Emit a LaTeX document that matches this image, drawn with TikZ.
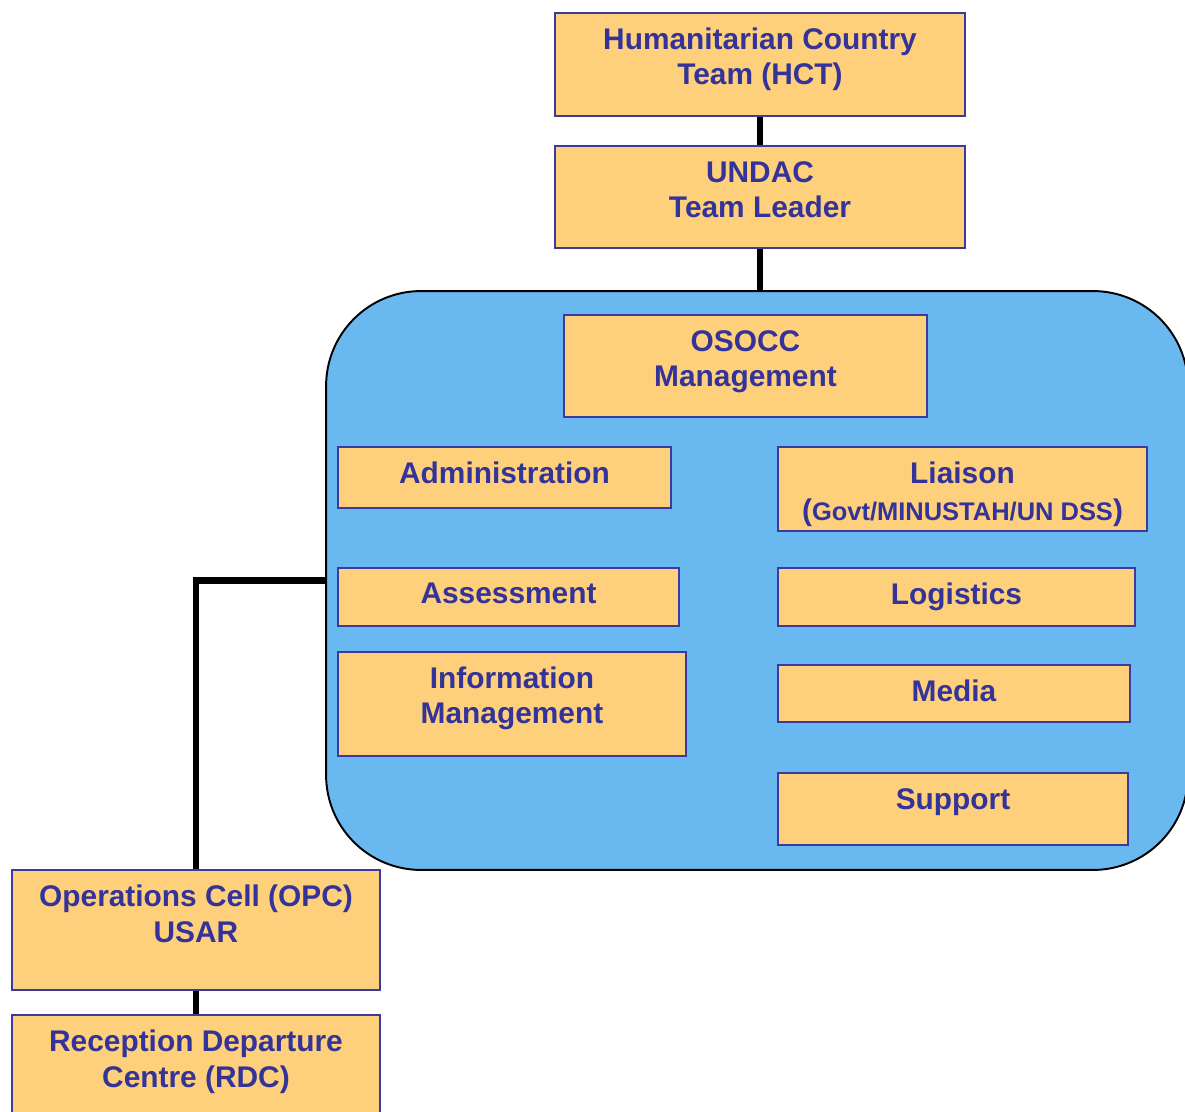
\documentclass[tikz,border=0pt]{standalone}
\usepackage{fontspec}
\setmainfont{Liberation Sans}
\usepackage{xcolor}
\usepackage{tikz}
\usetikzlibrary{positioning}

\definecolor{boxfill}{HTML}{FFD07B}
\definecolor{boxline}{HTML}{3A3AA0}
\definecolor{txtblue}{HTML}{333399}
\definecolor{osoccblue}{HTML}{69B8F0}

\begin{document}
\begin{tikzpicture}[
    x=0.02cm, y=-0.02cm,
    unit/.style={rectangle, draw=boxline, line width=1.1pt, fill=boxfill, inner sep=0pt},
    caption/.style={anchor=north, inner sep=0pt, yshift=-9pt, align=center, text=txtblue, font=\fontsize{17}{20}\selectfont\bfseries},
    link/.style={line width=3.6pt},
    area/.style={rectangle, draw, line width=1.1pt, fill=osoccblue, rounded corners=1.9cm}
]
\useasboundingbox (0,0) rectangle (1185,1111);

% OSOCC area
\node[area, minimum width=17.24cm, minimum height=11.58cm] (osocc) at (757, 580.5) {};

\node[unit, minimum width=8.2cm, minimum height=2.06cm, label={[caption]90:{Humanitarian Country\\Team (HCT)}}] (hct) at (760, 64.5) {};
\node[unit, minimum width=8.2cm, minimum height=2.04cm, label={[caption]90:{UNDAC\\Team Leader}}] (undac) at (760, 197) {};

\node[unit, minimum width=7.26cm, minimum height=2.04cm, label={[caption]90:{OSOCC\\Management}}] (mgmt) at (745.5, 366) {};

% left column
\node[unit, minimum width=6.66cm, minimum height=1.22cm, label={[caption]90:{Administration}}] (admin) at (504.5, 477.5) {};
\node[unit, minimum width=6.82cm, minimum height=1.16cm, label={[caption]90:{Assessment}}] (assess) at (508.5, 597) {};
\node[unit, minimum width=6.96cm, minimum height=2.08cm, label={[caption]90:{Information\\Management}}] (infomgmt) at (512, 704) {};

% right column
\node[unit, minimum width=7.38cm, minimum height=1.68cm, label={[caption]90:{Liaison\\[1pt]{\fontsize{14.5}{17}\selectfont{\fontsize{17}{20}\selectfont(}Govt/MINUSTAH/UN DSS{\fontsize{17}{20}\selectfont)}}}}] (liaison) at (962.5, 489) {};
\node[unit, minimum width=7.14cm, minimum height=1.16cm, label={[caption]90:{Logistics}}] (logist) at (956.5, 597) {};
\node[unit, minimum width=7.04cm, minimum height=1.14cm, label={[caption]90:{Media}}] (media) at (954, 693.5) {};
\node[unit, minimum width=7.0cm, minimum height=1.44cm, label={[caption]90:{Support}}] (support) at (953, 809) {};

% USAR side
\node[unit, minimum width=7.36cm, minimum height=2.4cm, label={[caption]90:{Operations Cell (OPC)\\USAR}}] (opc) at (196, 930) {};
\node[unit, minimum width=7.36cm, minimum height=2.1cm, label={[caption]90:{Reception Departure\\Centre (RDC)}}] (rdc) at (196, 1067.5) {};

\draw[link] (hct) -- (undac);
\draw[link] (undac.south) -- (undac.south |- osocc.north);
\draw[link] (osocc.west) -| (opc.north);
\draw[link] (opc) -- (rdc);

\end{tikzpicture}
\end{document}
